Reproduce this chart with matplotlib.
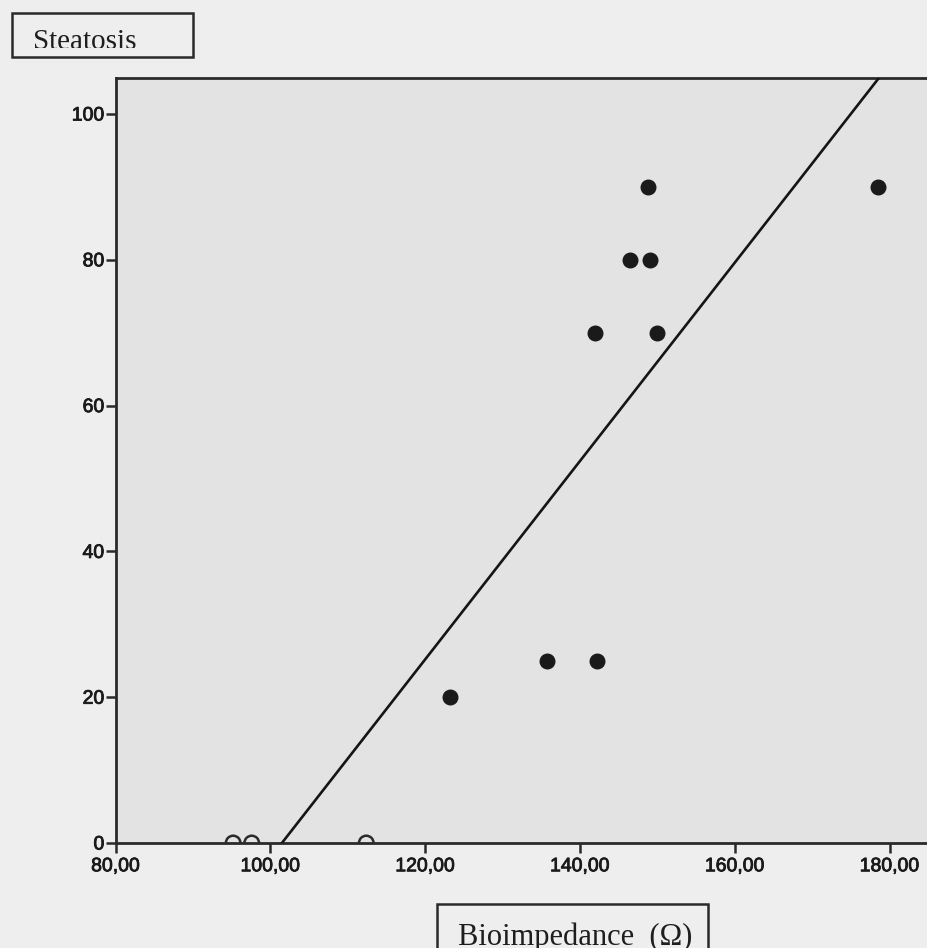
import matplotlib
matplotlib.use("Agg")
import matplotlib.pyplot as plt
import matplotlib.patheffects as pe
from matplotlib.patches import Rectangle
from matplotlib.transforms import Bbox, TransformedBbox
import numpy as np

# ---- data ----
bio_filled = [123.2, 135.7, 142.2, 141.9, 146.5, 149.1, 148.8, 150.0, 178.5]
steat_filled = [20, 25, 25, 70, 80, 80, 90, 70, 90]
bio_zero = [95.2, 97.6, 112.4]
steat_zero = [0, 0, 0]
fit_slope = 1.3606
fit_intercept = -138.1
x_ticks = [80, 100, 120, 140, 160, 180]
x_ticklabels = ["80,00", "100,00", "120,00", "140,00", "160,00", "180,00"]
y_ticks = [0, 20, 40, 60, 80, 100]
y_ticklabels = ["0", "20", "40", "60", "80", "100"]
y_title = "Steatosis"
x_title = "Bioimpedance  (\u03a9)"

W, H = 927, 948
fig = plt.figure(figsize=(W / 100, H / 100), dpi=100)
fig.patch.set_facecolor("#eeeeee")

px_per_x = 7.74
left_px, right_px = 115.5, 936.0
bottom_px, top_px = 843.0, 78.0
ax = fig.add_axes([left_px / W, (H - bottom_px) / H,
                   (right_px - left_px) / W, (bottom_px - top_px) / H])
ax.set_facecolor("#e3e3e3")
ax.set_xlim(80, 80 + (right_px - left_px) / px_per_x)
ax.set_ylim(0, (bottom_px - top_px) / 7.29)

for s in ["left", "bottom", "top"]:
    ax.spines[s].set_linewidth(2.0)
    ax.spines[s].set_color("#2a2a2a")
ax.spines["right"].set_visible(False)

ax.set_xticks(x_ticks)
ax.set_xticklabels(x_ticklabels)
ax.set_yticks(y_ticks)
ax.set_yticklabels(y_ticklabels)
ax.tick_params(axis="both", direction="out", length=7, width=1.8,
               color="#2a2a2a", labelcolor="#1a1a1a", labelsize=14)
ax.tick_params(axis="x", pad=4)
ax.tick_params(axis="y", pad=1)
thick = [pe.withStroke(linewidth=0.6, foreground="#1a1a1a")]
for lab in ax.get_xticklabels() + ax.get_yticklabels():
    lab.set_fontfamily("Liberation Sans")
    lab.set_path_effects(thick)

# regression line
xs = np.array(ax.get_xlim())
ax.plot(xs, fit_slope * xs + fit_intercept, color="#151515", lw=1.9, zorder=3)

# points
ax.scatter(bio_filled, steat_filled, s=110, color="#1a1a1a", zorder=4)
ax.scatter(bio_zero, steat_zero, s=110, facecolors="none",
           edgecolors="#2a2a2a", linewidths=1.8, zorder=4, clip_on=True)

# title boxes (figure pixel coords, y down as in the picture)
def fig_px_rect(x0, y0_top, x1, y1_bottom):
    return (x0 / W, (H - y1_bottom) / H, (x1 - x0) / W, (y1_bottom - y0_top) / H)

r = fig_px_rect(12, 13, 193, 57)
fig.patches.append(Rectangle((r[0], r[1]), r[2], r[3], transform=fig.transFigure,
                             fill=False, edgecolor="#2a2a2a", lw=1.8))
t1 = fig.text(33 / W, (H - 49) / H, y_title, family="Liberation Serif",
              fontsize=21, color="#1e1e1e", va="baseline", ha="left")
clip1 = TransformedBbox(Bbox([[0, (H - 48) / H], [1, 1]]), fig.transFigure)
t1.set_clip_box(clip1)
t1.set_clip_on(True)

r2 = fig_px_rect(437, 904, 708, 960)
fig.patches.append(Rectangle((r2[0], r2[1]), r2[2], r2[3], transform=fig.transFigure,
                             fill=False, edgecolor="#2a2a2a", lw=1.8))
t2 = fig.text(458 / W, (H - 945) / H, x_title, family="Liberation Serif",
              fontsize=22, color="#1e1e1e", va="baseline", ha="left")

fig.savefig("out.png", dpi=100, facecolor=fig.get_facecolor())
